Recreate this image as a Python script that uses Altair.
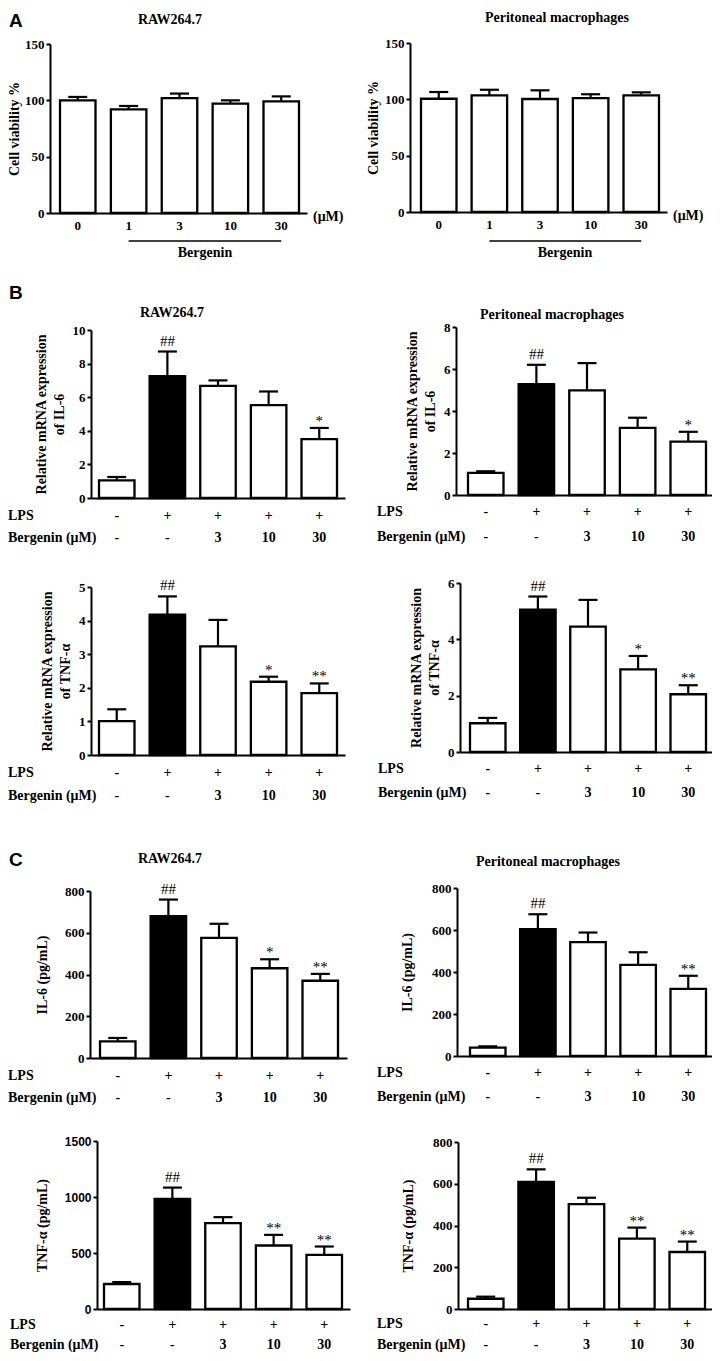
import altair as alt
import pandas as pd

# ---------------- data ----------------
doses = ["0", "1", "3", "10", "30"]
conds = ["Control", "LPS", "LPS+B3", "LPS+B10", "LPS+B30"]
lps_signs = ["-", "+", "+", "+", "+"]
bergenin_doses = ["-", "-", "3", "10", "30"]
fill_A = ["white", "white", "white", "white", "white"]
fill_BC = ["white", "black", "white", "white", "white"]
no_sig = ["", "", "", "", ""]

# A: cell viability (%)
viab_raw = [100, 92, 102, 97, 99]
viab_raw_err = [3, 3, 4, 3, 4.5]
viab_pm = [100.5, 103.5, 100.3, 101, 103.6]
viab_pm_err = [6, 5, 7.7, 3.5, 2.6]

# B: relative mRNA expression
il6_mrna_raw = [1.05, 7.25, 6.68, 5.53, 3.5]
il6_mrna_raw_err = [0.2, 1.47, 0.32, 0.81, 0.67]
il6_mrna_raw_sig = ["", "##", "", "", "*"]
il6_mrna_pm = [1.05, 5.28, 4.98, 3.2, 2.54]
il6_mrna_pm_err = [0.08, 0.92, 1.3, 0.48, 0.47]
il6_mrna_pm_sig = ["", "##", "", "", "*"]
tnf_mrna_raw = [1.01, 4.18, 3.23, 2.18, 1.84]
tnf_mrna_raw_err = [0.35, 0.54, 0.79, 0.15, 0.29]
tnf_mrna_raw_sig = ["", "##", "", "*", "**"]
tnf_mrna_pm = [1.02, 5.05, 4.45, 2.93, 2.05]
tnf_mrna_pm_err = [0.19, 0.47, 0.95, 0.48, 0.32]
tnf_mrna_pm_sig = ["", "##", "", "*", "**"]

# C: secreted cytokines (pg/mL)
il6_raw = [80, 680, 575, 430, 370]
il6_raw_err = [16, 79, 68, 43, 33]
il6_raw_sig = ["", "##", "", "*", "**"]
il6_pm = [40, 604, 542, 434, 320]
il6_pm_err = [6, 71, 46, 60, 62]
il6_pm_sig = ["", "##", "", "", "**"]
tnf_raw = [223, 983, 766, 567, 484]
tnf_raw_err = [17, 101, 54, 95, 74]
tnf_raw_sig = ["", "##", "", "**", "**"]
tnf_pm = [49, 609, 502, 337, 273]
tnf_pm_err = [10, 60, 31, 53, 50]
tnf_pm_sig = ["", "##", "", "**", "**"]

# ---------------- layout helpers ----------------
SERIF = "Liberation Serif"
SANS = "Liberation Sans"
W, H = 704, 1345
M = 8  # page margin


def X(v):
    return v - M


def Y(v):
    return v - M


def band_scale(cats, axis0, axis1, bar0, bar1, bw=35.5):
    n = len(cats)
    step = (bar1 - bar0 - bw) / (n - 1)
    p = 1 - bw / step
    R = axis1 - axis0
    q = max(0.0, (R / step - (n - p)) / 2)
    span = bar1 - bar0
    align = (bar0 - axis0) / (R - span) if R > span else 0.5
    align = min(1.0, max(0.0, align))
    return alt.Scale(type="band", domain=cats, range=[X(axis0), X(axis1)],
                     paddingInner=p, paddingOuter=q, align=align)


def txt(s, x, y, size=14, align="center", font=SERIF, weight="bold", baseline="middle"):
    return alt.Chart(pd.DataFrame({"t": [s]})).mark_text(
        font=font, fontSize=size, fontWeight=weight, align=align,
        baseline=baseline, color="black"
    ).encode(text="t:N", x=alt.value(X(x)), y=alt.value(Y(y)))


def panel(cats, vals, errs, sigs, fills, axis_x, bars_x, y_px, dmax, ticks, ytitle,
          xlabels=False, label_font=SERIF, label_size=13, tpad=6):
    top = [v + e for v, e in zip(vals, errs)]
    df = pd.DataFrame({"cat": cats, "val": vals, "top": top, "sig": sigs, "fill": fills})
    xs = band_scale(cats, axis_x[0], axis_x[1], bars_x[0], bars_x[1])
    ys = alt.Scale(type="linear", domain=[0, dmax], range=[Y(y_px[0]), Y(y_px[1])],
                   nice=False, zero=False)
    xa = alt.Axis(orient="bottom", offset=Y(y_px[0]) - H, title=None, ticks=False,
                  labels=xlabels, labelAngle=0, labelFont=SERIF, labelFontWeight="bold",
                  labelFontSize=13, labelPadding=6, labelColor="black",
                  domainColor="black", domainWidth=2, grid=False)
    ya = alt.Axis(orient="left", offset=-X(axis_x[0]), values=ticks, title=ytitle,
                  grid=False, format="d", domainColor="black", domainWidth=2,
                  tickColor="black", tickWidth=2, tickSize=4,
                  labelFont=label_font, labelFontWeight="bold", labelFontSize=label_size,
                  labelPadding=2, labelColor="black",
                  titleFont=SERIF, titleFontWeight="bold", titleFontSize=14,
                  titleColor="black", titlePadding=tpad, titleLineHeight=18)
    base = alt.Chart(df)
    xe = alt.X("cat:N", scale=xs, axis=None)
    err = base.mark_rule(color="black", strokeWidth=2.2).encode(
        x=xe, y=alt.Y("val:Q", scale=ys, axis=None), y2="top:Q")
    cap = base.mark_tick(orient="horizontal", color="black", size=19, thickness=2.2,
                         opacity=1).encode(x=xe, y=alt.Y("top:Q", scale=ys, axis=None))
    bars = base.mark_bar(stroke="black", strokeWidth=2.3).encode(
        x=alt.X("cat:N", scale=xs, axis=xa),
        y=alt.Y("val:Q", scale=ys, axis=ya),
        fill=alt.Fill("fill:N", scale=None))
    hashes = base.transform_filter("datum.sig == '##'").mark_text(
        font=SERIF, fontSize=15, baseline="alphabetic", dy=-6, color="black").encode(
        x=xe, y=alt.Y("top:Q", scale=ys, axis=None), text="sig:N")
    stars = base.transform_filter("datum.sig == '*' || datum.sig == '**'").mark_text(
        font=SERIF, fontSize=15, baseline="alphabetic", dy=-2, color="black").encode(
        x=xe, y=alt.Y("top:Q", scale=ys, axis=None), text="sig:N")
    return [err, cap, bars, hashes, stars], xs


def table(cats, xs, lps_y, berg_y, label_x):
    df = pd.DataFrame({"cat": cats, "lps": lps_signs, "berg": bergenin_doses})
    base = alt.Chart(df)
    xe = alt.X("cat:N", scale=xs, axis=None)
    style = dict(font=SERIF, fontSize=14, fontWeight="bold", baseline="middle",
                 align="center", color="black")
    r1 = base.mark_text(**style).encode(x=xe, y=alt.value(Y(lps_y)), text="lps:N")
    r2 = base.mark_text(**style).encode(x=xe, y=alt.value(Y(berg_y)), text="berg:N")
    return [r1, r2,
            txt("LPS", label_x, lps_y, align="left"),
            txt("Bergenin (μM)", label_x, berg_y, align="left")]


def bergenin_bar(xs, y_line, y_text, text_x):
    df = pd.DataFrame({"a": [doses[1]], "b": [doses[-1]]})
    line = alt.Chart(df).mark_rule(color="black", strokeWidth=1.5).encode(
        x=alt.X("a:N", scale=xs, axis=None), x2="b:N", y=alt.value(Y(y_line)))
    return [line, txt("Bergenin", text_x, y_text)]


layers = []

# ---------------- A ----------------
l, xs = panel(doses, viab_raw, viab_raw_err, no_sig, fill_A, (50, 307), (60, 299),
              (213, 44), 150, [0, 50, 100, 150], "Cell viability %", xlabels=True, tpad=3)
layers += l + bergenin_bar(xs, 241, 253, 205)
layers += [txt("(μM)", 313, 217, align="left"), txt("RAW264.7", 170, 20)]

l, xs = panel(doses, viab_pm, viab_pm_err, no_sig, fill_A, (410, 667), (421, 659),
              (212, 43), 150, [0, 50, 100, 150], "Cell viability %", xlabels=True, tpad=4)
layers += l + bergenin_bar(xs, 241, 253, 565)
layers += [txt("(μM)", 673, 216, align="left"), txt("Peritoneal macrophages", 557, 18)]

# ---------------- B ----------------
l, xs = panel(conds, il6_mrna_raw, il6_mrna_raw_err, il6_mrna_raw_sig, fill_BC,
              (91, 345), (99, 337), (498, 330), 10, [0, 2, 4, 6, 8, 10],
              ["Relative mRNA expression", "of IL-6"])
layers += l + table(conds, xs, 516, 538, 8) + [txt("RAW264.7", 172, 313)]

l, xs = panel(conds, il6_mrna_pm, il6_mrna_pm_err, il6_mrna_pm_sig, fill_BC,
              (456, 712), (468, 706), (495, 327), 8, [0, 2, 4, 6, 8],
              ["Relative mRNA expression", "of IL-6"])
layers += l + table(conds, xs, 512, 537, 377) + [txt("Peritoneal macrophages", 552, 315)]

l, xs = panel(conds, tnf_mrna_raw, tnf_mrna_raw_err, tnf_mrna_raw_sig, fill_BC,
              (91, 345), (99, 337), (755, 587), 5, [0, 1, 2, 3, 4, 5],
              ["Relative mRNA expression", "of TNF-α"])
layers += l + table(conds, xs, 773, 796, 8)

l, xs = panel(conds, tnf_mrna_pm, tnf_mrna_pm_err, tnf_mrna_pm_sig, fill_BC,
              (460, 712), (470, 706), (752, 583), 6, [0, 2, 4, 6],
              ["Relative mRNA expression", "of TNF-α"])
layers += l + table(conds, xs, 769, 793, 378)

# ---------------- C ----------------
l, xs = panel(conds, il6_raw, il6_raw_err, il6_raw_sig, fill_BC,
              (90, 347), (100, 338), (1058, 891), 800, [0, 200, 400, 600, 800],
              "IL-6 (pg/mL)", tpad=15)
layers += l + table(conds, xs, 1076, 1098, 8) + [txt("RAW264.7", 170, 859)]

l, xs = panel(conds, il6_pm, il6_pm_err, il6_pm_sig, fill_BC,
              (457, 712), (470, 706), (1056, 888), 800, [0, 200, 400, 600, 800],
              "IL-6 (pg/mL)", tpad=17)
layers += l + table(conds, xs, 1073, 1097, 377) + [txt("Peritoneal macrophages", 548, 862)]

l, xs = panel(conds, tnf_raw, tnf_raw_err, tnf_raw_sig, fill_BC,
              (97, 350), (104, 342), (1309, 1141), 1500, [0, 500, 1000, 1500],
              "TNF-α (pg/mL)", label_font=SANS, label_size=12, tpad=15)
layers += l + table(conds, xs, 1325, 1345, 10)

l, xs = panel(conds, tnf_pm, tnf_pm_err, tnf_pm_sig, fill_BC,
              (458, 712), (468, 705), (1309, 1142), 800, [0, 200, 400, 600, 800],
              "TNF-α (pg/mL)", tpad=17)
layers += l + table(conds, xs, 1324, 1345, 377)

# panel letters
layers += [txt("A", 9, 21, size=19, align="left", font=SANS),
           txt("B", 9, 293, size=19, align="left", font=SANS),
           txt("C", 9, 860, size=19, align="left", font=SANS)]

chart = alt.layer(*layers).resolve_scale(x="independent", y="independent").properties(
    width=W, height=H, padding=0,
    autosize=alt.AutoSizeParams(type="none"),
    background="white",
).configure_view(stroke=None)

chart.save("out.html", embed_options={"renderer": "svg", "actions": False})
